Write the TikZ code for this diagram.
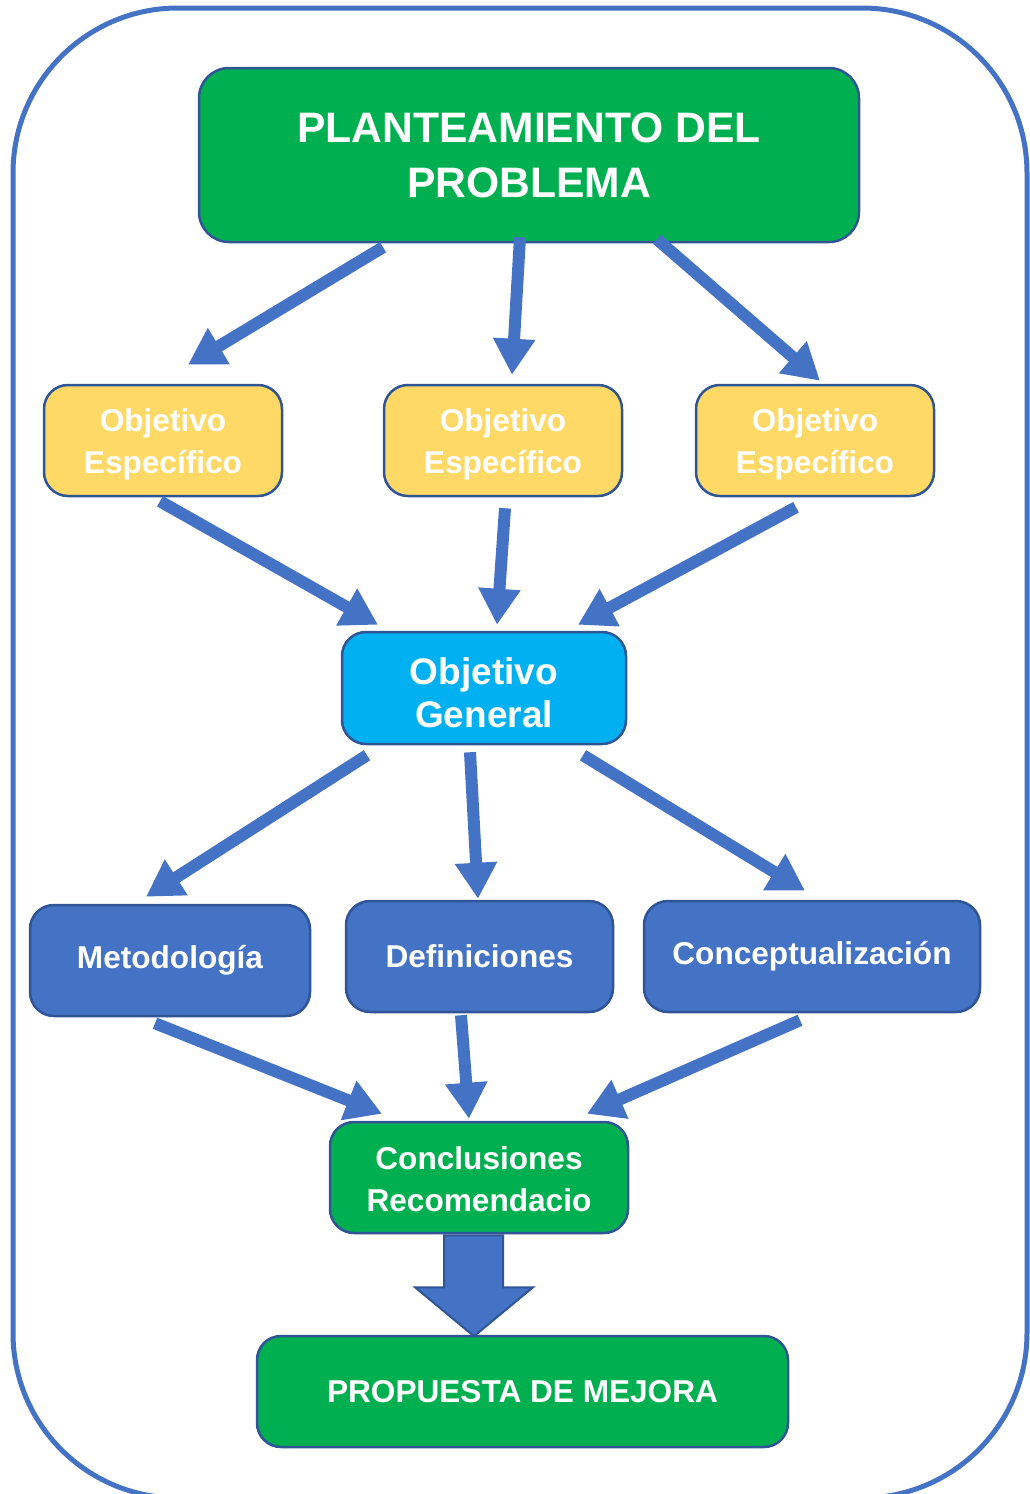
\documentclass[tikz,border=0pt]{standalone}
\usepackage{fontspec}
\setmainfont{Liberation Sans}
\usetikzlibrary{arrows.meta,calc}
\definecolor{grn}{HTML}{00B050}
\definecolor{yel}{HTML}{FFD966}
\definecolor{cya}{HTML}{00B0F0}
\definecolor{blu}{HTML}{4472C4}
\definecolor{bdr}{HTML}{2F5597}
\begin{document}
\begin{tikzpicture}[x=1pt,y=-1pt,
  box/.style={draw=bdr, line width=2.5pt, rounded corners=24pt, text=white, align=center,
    inner sep=0pt, font=\fontsize{31.6}{42}\selectfont\bfseries},
  conn/.style={draw=blu, line width=12pt, -{Triangle[length=36pt,width=40pt]}}]
\useasboundingbox (0,0) rectangle (1030,1494);
\draw[blu, line width=5pt, rounded corners=165pt] (13,8) rectangle (1027,1498);

\node[box, fill=grn, minimum width=660pt, minimum height=174pt, rounded corners=30pt,
  font=\fontsize{42.6}{55}\selectfont\bfseries] (top) at (529,155) {PLANTEAMIENTO DEL\\PROBLEMA};
\node[box, fill=yel, minimum width=238pt, minimum height=111pt] (y1) at (163,440.5) {\rule{0pt}{31pt}Objetivo\\Específico};
\node[box, fill=yel, minimum width=238pt, minimum height=111pt] (y2) at (503,440.5) {\rule{0pt}{31pt}Objetivo\\Específico};
\node[box, fill=yel, minimum width=238pt, minimum height=111pt] (y3) at (815,440.5) {\rule{0pt}{31pt}Objetivo\\Específico};
\node[box, fill=cya, minimum width=284pt, minimum height=112pt,
  font=\fontsize{37}{43}\selectfont\bfseries] (gen) at (484,688) {\rule{0pt}{36pt}Objetivo\\General};
\node[box, fill=blu, minimum width=280pt, minimum height=111pt] (met) at (170,960.5) {Metodología};
\node[box, fill=blu, minimum width=267pt, minimum height=111pt] (def) at (479.5,956.5) {Definiciones};
\node[box, fill=blu, minimum width=336pt, minimum height=111pt] (cpt) at (812,956.5) {Conceptualización};
\node[box, fill=grn, minimum width=298pt, minimum height=111pt] (conc) at (479,1177.5) {\rule{0pt}{27pt}Conclusiones\\Recomendacio};
\node[box, fill=grn, minimum width=531pt, minimum height=111pt] (prop) at (522.5,1391.5) {PROPUESTA DE MEJORA};

\draw[conn] ($(top.south)+(-146,4)$) -- ($(y1.north)+(25,-19)$);
\draw[conn] ($(top.south)+(-9,-6)$) -- ($(y2.north)+(9,-9)$);
\draw[conn] ($(top.south)+(128,-4)$) -- ($(y3.north)+(5,-3)$);

\draw[conn] ($(y1.south)+(-3,4)$) -- ($(gen.north)+(-106,-6)$);
\draw[conn] ($(y2.south)+(2,11)$) -- ($(gen.north)+(13,-6)$);
\draw[conn] ($(y3.south)+(-19,10)$) -- ($(gen.north)+(94,-6)$);

\draw[conn] ($(gen.south)+(-117,10)$) -- ($(met.north)+(-24,-7)$);
\draw[conn] ($(gen.south)+(-14,7)$) -- ($(def.north)+(-1.5,-1)$);
\draw[conn] ($(gen.south)+(99,10)$) -- ($(cpt.north)+(-7,-9)$);

\draw[conn] ($(met.south)+(-15,6)$) -- ($(conc.north)+(-97,-7)$);
\draw[conn] ($(def.south)+(-18.5,2)$) -- ($(conc.north)+(-10,-2)$);
\draw[conn] ($(cpt.south)+(-12,7)$) -- ($(conc.north)+(108,-7)$);

\draw[fill=blu, draw=bdr, line width=2pt, line join=miter]
  ($(conc.south)+(-35,1)$) -- ($(conc.south)+(24,1)$) -- ($(conc.south)+(24,53)$)
  -- ($(conc.south)+(54,53)$) -- ($(conc.south)+(-5,102)$) -- ($(conc.south)+(-64,53)$)
  -- ($(conc.south)+(-35,53)$) -- cycle;
\end{tikzpicture}
\end{document}
